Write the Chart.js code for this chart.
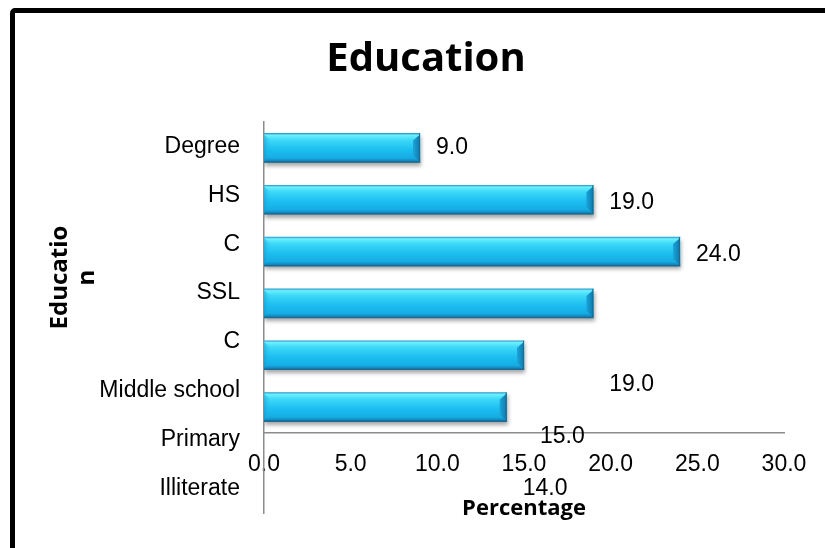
<!DOCTYPE html>
<html>
<head>
<meta charset="utf-8">
<script src="https://cdn.jsdelivr.net/npm/chart.js@4.4.1/dist/chart.umd.min.js"></script>
<style>
    body { margin: 0; background: #fff; overflow: hidden; }
    #wrap { position: relative; width: 825px; height: 548px; }
    #frame {
        position: absolute; left: 10px; top: 8px; width: 840px; height: 570px;
        border: 5px solid #000; border-radius: 5px; pointer-events: none;
    }
    canvas { position: absolute; left: 0; top: 0; }
</style>
</head>
<body>
<div id="wrap">
    <canvas id="graphEducation" width="825" height="548"></canvas>
    <div id="frame"></div>
</div>
<script>
// category names down the left side
const categories = ['Degree', 'HS', 'C', 'SSL', 'C', 'Middle school', 'Primary', 'Illiterate'];
// percentages, one bar each, top to bottom
const values = [9.0, 19.0, 24.0, 19.0, 15.0, 14.0];
// x axis ticks
const pctTicks = [0, 5, 10, 15, 20, 25, 30];

// value labels slide down by this many bar slots
const labelDrop = [0, 0.06, 0.05, 1.57, 1.57, 1.57];

const tickFont = { family: 'Liberation Sans', size: 23 };
const headFont = { family: 'Open Sans', weight: 'bold' };

Chart.defaults.color = '#000';

// glossy cyan fill for each bar
function barFill(context) {
    const chart = context.chart;
    if (!chart.chartArea) return '#1ec0ee';
    const y = chart.scales.y.getPixelForValue(context.dataIndex);
    const g = chart.ctx.createLinearGradient(0, y - 14.5, 0, y + 14.5);
    g.addColorStop(0, '#2b9fcf');
    g.addColorStop(0.06, '#6cf0fd');
    g.addColorStop(0.22, '#3fd9f8');
    g.addColorStop(0.55, '#1cbff0');
    g.addColorStop(0.85, '#15ace3');
    g.addColorStop(0.94, '#1288bf');
    g.addColorStop(1, '#1a6a93');
    return g;
}

const barShadow = {
    id: 'barShadow',
    beforeDatasetsDraw(chart) {
        const ctx = chart.ctx;
        ctx.save();
        ctx.shadowColor = 'rgba(0,0,0,0.35)';
        ctx.shadowBlur = 4;
        ctx.shadowOffsetX = 1;
        ctx.shadowOffsetY = 3;
    },
    afterDatasetsDraw(chart) {
        chart.ctx.restore();
    }
};

// bevelled ends and the number next to every bar
const barDecor = {
    id: 'barDecor',
    afterDatasetsDraw(chart) {
        const ctx = chart.ctx;
        const meta = chart.getDatasetMeta(0);
        const slot = chart.scales.y.getPixelForValue(1) - chart.scales.y.getPixelForValue(0);
        ctx.save();
        meta.data.forEach((bar, i) => {
            const L = bar.base, R = bar.x;
            const T = bar.y - bar.height / 2, B = bar.y + bar.height / 2;
            const d = 7;
            const lg = ctx.createLinearGradient(L, 0, L + d, 0);
            lg.addColorStop(0, 'rgba(20,150,205,0.55)');
            lg.addColorStop(1, 'rgba(40,195,240,0)');
            ctx.fillStyle = lg;
            ctx.beginPath();
            ctx.moveTo(L, T + 1); ctx.lineTo(L + d, T + d); ctx.lineTo(L + d, B - d); ctx.lineTo(L, B - 1);
            ctx.closePath(); ctx.fill();
            const rg = ctx.createLinearGradient(R - d, 0, R, 0);
            rg.addColorStop(0, '#1aa6da');
            rg.addColorStop(1, '#0f78ab');
            ctx.fillStyle = rg;
            ctx.beginPath();
            ctx.moveTo(R, T + 1); ctx.lineTo(R, B - 1); ctx.lineTo(R - d, B - d); ctx.lineTo(R - d, T + d);
            ctx.closePath(); ctx.fill();
            ctx.strokeStyle = '#1b6a92';
            ctx.lineWidth = 1;
            ctx.beginPath();
            ctx.moveTo(L, B - 0.5); ctx.lineTo(R - 0.5, B - 0.5); ctx.lineTo(R - 0.5, T);
            ctx.stroke();

            ctx.font = tickFont.size + 'px ' + tickFont.family;
            ctx.fillStyle = '#000';
            ctx.textAlign = 'left';
            ctx.textBaseline = 'middle';
            ctx.fillText(values[i].toFixed(1), R + 16, bar.y + labelDrop[i] * slot);
        });
        ctx.restore();
    }
};

// the name axis runs on below the value axis
const longNameAxis = {
    id: 'longNameAxis',
    afterLayout(chart) {
        const s = chart.scales.yNames;
        s.bottom = s.bottom + 80;
        s.height = s.bottom - s.top;
        s.configure();
    }
};

const ctx = document.getElementById('graphEducation');
new Chart(ctx, {
    type: 'bar',
    data: {
        labels: categories.slice(0, values.length),
        datasets: [{
            label: 'Percentage',
            data: values,
            backgroundColor: barFill,
            borderWidth: 0,
            barThickness: 29
        }]
    },
    options: {
        indexAxis: 'y',
        responsive: false,
        animation: false,
        layout: { padding: { top: 0, left: 27, right: 0, bottom: 26 } },
        plugins: {
            legend: { display: false },
            tooltip: { enabled: false },
            title: {
                display: true,
                text: 'Education',
                color: '#000',
                font: { ...headFont, size: 40 },
                padding: { top: 36, bottom: 38 }
            }
        },
        scales: {
            x: {
                type: 'linear',
                position: 'bottom',
                min: 0,
                max: 30,
                afterBuildTicks: s => { s.ticks = pctTicks.map(v => ({ value: v })); },
                grid: { display: false, drawTicks: false },
                border: { display: true, color: '#8c8c8c', width: 1.5 },
                ticks: { font: tickFont, color: '#000', padding: 18, callback: v => v.toFixed(1) },
                title: {
                    display: true,
                    text: 'Percentage',
                    color: '#000',
                    font: { ...headFont, size: 22 },
                    padding: { top: -1, bottom: 0 }
                }
            },
            y: {
                type: 'category',
                position: 'left',
                weight: 10,
                grid: { display: false, drawTicks: false },
                border: { display: false },
                ticks: { display: false },
                afterFit: s => { s.width = 60; },
                title: {
                    display: true,
                    text: ['Educatio', 'n'],
                    color: '#000',
                    font: { ...headFont, size: 24, lineHeight: 1.15 },
                    padding: { top: 19, bottom: 0 }
                }
            },
            yNames: {
                type: 'category',
                axis: 'y',
                position: 'left',
                weight: 0,
                labels: categories,
                offset: true,
                grid: { display: false, drawTicks: false },
                border: { display: true, color: '#8c8c8c', width: 1.5 },
                ticks: { font: tickFont, color: '#000', padding: 24, autoSkip: false },
                afterFit: s => { s.width = 177; }
            },
            // empty strip that keeps the plot clear of the right edge
            yRight: {
                type: 'category',
                axis: 'y',
                position: 'right',
                labels: categories,
                grid: { display: false, drawTicks: false },
                border: { display: false },
                ticks: { display: false },
                afterFit: s => { s.width = 41; }
            }
        }
    },
    plugins: [barShadow, barDecor, longNameAxis]
});
</script>
</body>
</html>
